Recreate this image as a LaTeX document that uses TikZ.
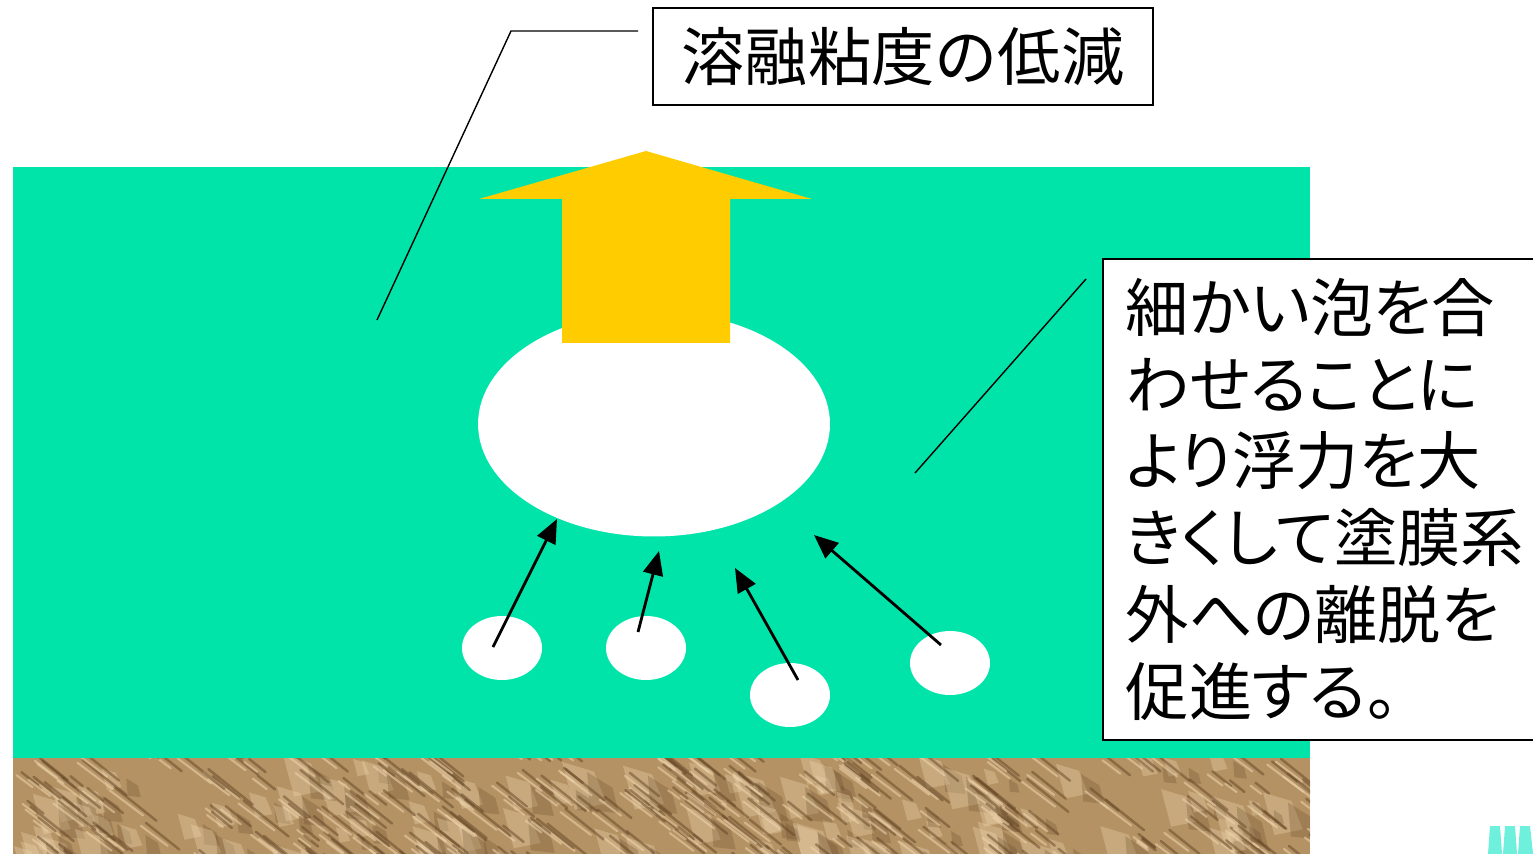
\documentclass[tikz,border=0pt]{standalone}
\usepackage{fontspec}
\newfontfamily\cjk{Noto Sans CJK JP}
\newfontfamily\cjkprop[RawFeature=+palt]{Noto Sans CJK JP}
\usepackage{tikz}
\usetikzlibrary{positioning,shapes.geometric,arrows.meta}

\definecolor{resin}{RGB}{0,228,170}
\definecolor{lift}{RGB}{255,204,0}
\definecolor{soil}{RGB}{180,146,100}
\definecolor{soildark}{RGB}{100,70,38}
\definecolor{soillight}{RGB}{238,212,172}
\definecolor{tickcyan}{RGB}{110,240,220}

\tikzset{
  bubble/.style={ellipse, fill=white, inner sep=0pt},
  labelbox/.style={draw=black, line width=1pt, fill=white, inner sep=0pt},
  leader/.style={line width=0.8pt},
  rise/.style={line width=1.6pt, -{Triangle[length=0.48cm,width=0.4cm]}}
}

\begin{document}
\begin{tikzpicture}[x=0.02cm,y=-0.02cm]
    \useasboundingbox (0,0) rectangle (1533,854);

    % coating layer and substrate
    \fill[resin] (13,167) rectangle (1310,758);
    \begin{scope}
      \clip (13,758) rectangle (1310,854);
      \fill[soil] (13,758) rectangle (1310,854);
      \pgfmathsetseed{11}
      % soft patches first, then the creases
      \foreach \i in {1,...,90}{
        \pgfmathsetmacro\px{13+1310*rnd}
        \pgfmathsetmacro\py{750+110*rnd}
        \pgfmathsetmacro\sz{10+22*rnd}
        \fill[soillight, opacity=0.35] (\px,\py) -- ++(\sz,0.3*\sz)
          -- ++(0.4*\sz,\sz) -- ++(-\sz,0.2*\sz) -- cycle;
        \fill[soildark, opacity=0.25] (\px+25,\py+10) -- ++(0.8*\sz,0.5*\sz)
          -- ++(0.2*\sz,0.8*\sz) -- ++(-0.9*\sz,-0.1*\sz) -- cycle;
      }
      \foreach \i in {1,...,260}{
        \pgfmathsetmacro\px{13+1310*rnd}
        \pgfmathsetmacro\py{745+120*rnd}
        \pgfmathsetmacro\len{12+34*rnd}
        \draw[soildark, line width=1.4pt, opacity=0.5, line cap=round]
          (\px,\py) -- ++(\len,0.8*\len);
        \draw[soillight, line width=1.2pt, opacity=0.55, line cap=round]
          (\px-5,\py+3) -- ++(0.8*\len,0.6*\len);
      }
    \end{scope}

    % big bubble and the lift arrow
    \node[bubble, minimum width=7.04cm, minimum height=4.5cm] (big) at (654,424) {};
    \fill[lift] (646,151) -- (812,199) -- (730,199) -- (730,343)
      -- (562,343) -- (562,199) -- (479,199) -- cycle;

    % small bubbles
    \node[bubble, minimum width=1.6cm, minimum height=1.28cm] (b1) at (502,648) {};
    \node[bubble, minimum width=1.6cm, minimum height=1.28cm] (b2) at (646,648) {};
    \node[bubble, minimum width=1.6cm, minimum height=1.28cm] (b3) at (790,695) {};
    \node[bubble, minimum width=1.6cm, minimum height=1.28cm] (b4) at (950,663) {};

    \coordinate (s1) at (493,647);
    \coordinate (s2) at (638,632);
    \coordinate (s3) at (798,680);
    \coordinate (s4) at (941,645);
    \coordinate (t1) at (557,519);
    \coordinate (t2) at (659,551);
    \coordinate (t3) at (735,568);
    \coordinate (t4) at (814,535);

    \foreach \k in {1,...,4}
      \draw[rise] (s\k) -- (t\k);

    % labels
    \node[labelbox, minimum width=10cm, minimum height=1.94cm,
          font={\cjk\fontsize{36}{40}\selectfont}] (viscbox) at (903,56.5) {溶融粘度の低減};
    \node[labelbox, anchor=north west, minimum width=9cm, minimum height=9.62cm,
          text width=8.4cm, align=left, inner xsep=0.46cm,
          font={\cjkprop\fontsize{36}{43.7}\selectfont}] (notebox) at (1102,258)
      {細かい泡を合\\わせることに\\より浮力を大\\きくして塗膜系\\外への離脱を\\促進する。};

    \coordinate (v1) at (638,31);
    \coordinate (v2) at (511,31);
    \coordinate (v3) at (377,320);
    \draw[leader] (v1) -- (v2) -- (v3);
    \coordinate (n1) at (1086,279);
    \coordinate (n2) at (915,473);
    \draw[leader] (n1) -- (n2);

    % corner tick
    \fill[tickcyan] (1490,826) -- (1500,826) -- (1502,854) -- (1488,854) -- cycle;
    \fill[tickcyan] (1505,826) -- (1515,826) -- (1517,854) -- (1503,854) -- cycle;
    \fill[tickcyan] (1520,826) -- (1530,826) -- (1533,854) -- (1518,854) -- cycle;
\end{tikzpicture}
\end{document}
